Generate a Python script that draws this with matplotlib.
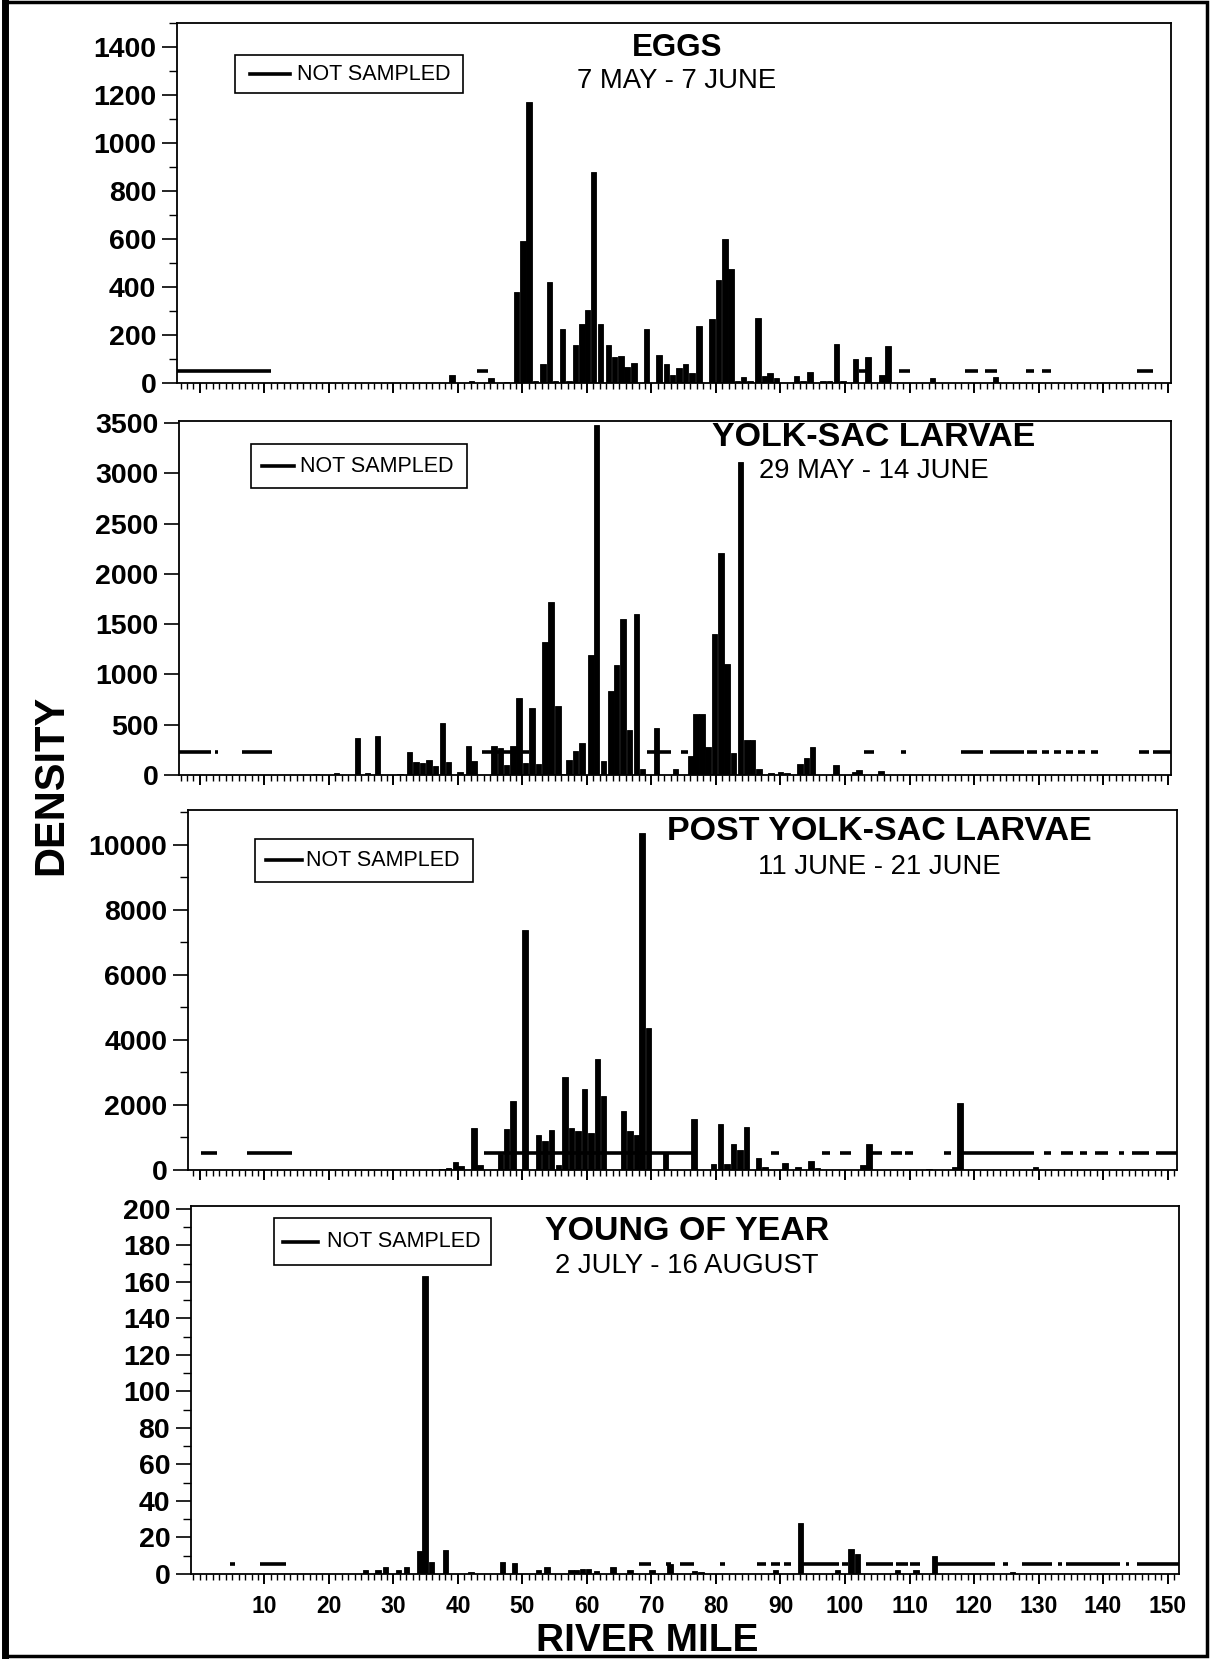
import matplotlib
matplotlib.use("Agg")
import matplotlib.pyplot as plt
from matplotlib.lines import Line2D
from matplotlib.patches import Rectangle
from matplotlib.ticker import MultipleLocator

# ---- data (river mile, density) ----
eggs_mile = [39.1, 42.1, 45.1, 47.5, 49.1, 50.1, 51.0, 52.0, 53.2, 54.2, 55.1, 56.2,
             57.2, 58.2, 59.2, 60.1, 61.0, 62.1, 63.3, 64.3, 65.3, 66.2, 67.3, 69.2,
             71.2, 72.3, 73.3, 74.3, 75.3, 76.3, 77.4, 79.4, 80.4, 81.4, 82.3, 83.3,
             84.3, 85.3, 86.5, 87.5, 88.4, 89.4, 92.5, 93.5, 94.6, 96.6, 97.6, 98.7,
             99.7, 101.6, 103.6, 105.7, 106.7, 113.6, 123.3]
eggs_val = [35, 8, 22, 5, 380, 590, 1170, 10, 80, 420, 10, 226,
            10, 157, 247, 303, 880, 247, 160, 108, 112, 67, 85, 226,
            115, 80, 32, 62, 80, 40, 237, 265, 430, 601, 476, 8,
            25, 8, 270, 30, 40, 20, 30, 10, 45, 10, 10, 161,
            10, 98, 108, 35, 155, 20, 25]
eggs_ns = [(-4, 11), (42.9, 44.7), (102.1, 103.2), (108.4, 110), (118.6, 120.6),
           (121.7, 123.5), (128, 129.3), (130.6, 131.9), (145.3, 147.7)]

ysl_mile = [18.0, 21.2, 24.4, 26.0, 27.5, 31.0, 32.5, 33.5, 34.5, 35.5, 36.5, 37.6,
            38.5, 40.3, 41.6, 42.5, 45.6, 46.6, 47.5, 48.5, 49.5, 50.5, 51.5, 52.5,
            53.5, 54.4, 55.5, 56.2, 57.2, 58.2, 59.2, 60.6, 61.5, 62.6, 63.7, 64.6,
            65.6, 66.6, 67.7, 68.6, 70.8, 73.7, 76.1, 76.9, 77.8, 78.8, 79.8, 80.8,
            81.7, 82.7, 83.8, 84.8, 85.7, 86.7, 88.5, 90.0, 91.0, 93.0, 94.0, 95.0,
            98.6, 101.5, 102.2, 105.6]
ysl_val = [10, 15, 368, 20, 385, 10, 224, 134, 124, 150, 90, 519,
           134, 30, 284, 144, 291, 268, 100, 284, 770, 120, 670, 110,
           1322, 1724, 686, 10, 150, 240, 318, 1195, 3480, 144, 837, 1094,
           1556, 452, 1596, 57, 469, 57, 184, 602, 602, 278, 1405, 2209,
           1104, 218, 3112, 345, 345, 57, 20, 30, 20, 110, 167, 278,
           100, 30, 45, 40]
ysl_ns = [(-4, 1.7), (2.3, 2.8), (6.5, 11.2), (43.7, 51), (69.3, 73.1), (74.6, 75.7),
          (102.9, 104.5), (108.7, 109.4), (118, 121.4), (122.4, 127.7), (128.2, 129.8),
          (130.5, 131.6), (132.4, 133.5), (134.3, 135.4), (136.1, 137.2), (138.2, 139.2),
          (145.6, 147.1), (147.7, 153)]

pysl_mile = [37.5, 38.5, 39.6, 40.5, 42.5, 43.4, 46.6, 47.5, 48.5, 50.4, 52.5, 53.5,
             54.5, 55.6, 56.6, 57.6, 58.6, 59.6, 60.6, 61.6, 62.6, 65.7, 66.7, 67.7,
             68.5, 69.5, 72.2, 76.6, 79.6, 80.7, 81.7, 82.7, 83.7, 84.7, 86.6, 87.6,
             90.7, 92.7, 94.7, 95.7, 97.5, 102.8, 103.7, 110.6, 113.0, 117.0, 117.8, 129.5]
pysl_val = [30, 60, 235, 133, 1279, 164, 500, 1259, 2128, 7368, 1075, 880,
            1228, 164, 2845, 1290, 1187, 2487, 1126, 3408, 2282, 1801, 1208, 1085,
            10367, 4360, 520, 1566, 174, 1402, 174, 798, 614, 1330, 358, 100,
            205, 100, 276, 60, 10, 150, 798, 10, 20, 100, 2047, 100]
pysl_ns = [(0.2, 2.7), (7.3, 14.2), (44, 76.5), (88.5, 89.8), (96.4, 97.7), (99.2, 101),
           (103.7, 105.7), (107.2, 108.8), (109.3, 110.6), (115.4, 116.5), (117.8, 129.3),
           (130.9, 132), (133.5, 135.3), (136.5, 137.5), (138.8, 140.8), (142.4, 143.2),
           (144.5, 147.2), (148.2, 153)]

yoy_mile = [25.7, 27.6, 28.8, 30.8, 32.0, 34.1, 34.9, 35.9, 38.1, 42.0, 46.9, 48.8,
            52.5, 53.8, 57.5, 58.4, 59.3, 60.2, 61.5, 64.0, 66.7, 70.1, 72.9, 76.7,
            77.7, 89.2, 93.1, 98.8, 100.9, 101.9, 108.1, 111.0, 113.9, 126.0]
yoy_val = [2, 2.3, 3.6, 2, 3.6, 12.6, 163, 6.8, 13, 1, 6.8, 6,
           2, 3.6, 2, 2, 2.7, 2.7, 1.5, 3.6, 2, 2, 5.4, 1.5,
           1, 2, 28, 2, 13.6, 10.8, 2, 2, 10, 1]
yoy_ns = [(4.7, 5.4), (9.3, 13.3), (68, 69.9), (72.2, 73), (74.5, 76.6), (80.6, 81.4),
          (86.4, 87.8), (88.5, 89.9), (90.5, 91.6), (93.2, 99), (99.5, 100.5),
          (103.2, 107.4), (107.9, 109.8), (110, 111.6), (114.3, 123.2), (124.5, 125.2),
          (127.4, 132.1), (133, 133.6), (134.3, 142.6), (143.5, 144), (145.3, 153)]

titles = ["EGGS", "YOLK-SAC LARVAE", "POST YOLK-SAC LARVAE", "YOUNG OF YEAR"]
dates = ["7 MAY - 7 JUNE", "29 MAY - 14 JUNE", "11 JUNE - 21 JUNE", "2 JULY - 16 AUGUST"]
ns_level = [50, 230, 520, 5.5]
ymax = [1500, 3520, 11070, 201.5]
ymajor = [200, 500, 2000, 20]
yminor = [100, 500, 1000, 10]

# ---- layout, in pixels of the 1212x1659 output ----
W, H = 1212, 1659
X0, PXM = 199.9, 6.451          # pixel of river mile 0, pixels per mile
boxes = [(177, 23, 1171, 383), (179, 421, 1171, 775),
         (188, 810, 1177, 1170), (191, 1206, 1179, 1574)]
title_xy = [(677, 48, 81), (874, 438, 471), (879, 832, 867), (687, 1232, 1266)]
title_size = [22.5, 24.5, 24.5, 24.5]
# legend box (l, t, r, b), handle line (x1, x2), text x
legend_box = [(235, 55, 463, 93), (251, 444, 467, 488),
              (255, 839, 473, 882), (274, 1218, 491, 1265)]
legend_line = [(250, 290), (262, 294), (266, 302), (283, 318)]
legend_text_x = [297, 300, 306, 327]

FONT = ['Liberation Sans', 'DejaVu Sans']


def fx(x):
    return x / W


def fy(y):
    return 1 - y / H


fig = plt.figure(figsize=(W / 100, H / 100), dpi=100)

data = [(eggs_mile, eggs_val, eggs_ns), (ysl_mile, ysl_val, ysl_ns),
        (pysl_mile, pysl_val, pysl_ns), (yoy_mile, yoy_val, yoy_ns)]

for i, (miles, vals, ns) in enumerate(data):
    l, t, r, b = boxes[i]
    ax = fig.add_axes([fx(l), fy(b), (r - l) / W, (b - t) / H])
    ax.hlines([ns_level[i]] * len(ns), [s[0] for s in ns], [s[1] for s in ns],
              colors='black', linewidth=2.6, zorder=2)
    ax.bar(miles, vals, width=0.85, color='black', edgecolor='black',
           linewidth=0.6, zorder=3)
    ax.set_xlim((l - X0) / PXM, (r - X0) / PXM)
    ax.set_ylim(0, ymax[i])

    ax.xaxis.set_major_locator(MultipleLocator(10))
    ax.xaxis.set_minor_locator(MultipleLocator(1))
    ax.yaxis.set_major_locator(MultipleLocator(ymajor[i]))
    ax.yaxis.set_minor_locator(MultipleLocator(yminor[i]))
    ax.tick_params(axis='y', which='major', direction='out', length=11, width=1.2, pad=4)
    ax.tick_params(axis='y', which='minor', direction='out', length=6, width=1.0)
    ax.tick_params(axis='x', which='major', direction='out', length=7, width=1.4, pad=8)
    ax.tick_params(axis='x', which='minor', direction='out', length=4, width=1.0)
    for s in ax.spines.values():
        s.set_linewidth(1.3)

    for lab in ax.get_yticklabels():
        lab.set_family(FONT)
        lab.set_fontweight('bold')
        lab.set_fontsize(20.5)
    if i < 3:
        ax.set_xticklabels([])
    else:
        ax.set_xticks(range(10, 151, 10))
        ax.set_xticklabels([str(v) for v in range(10, 151, 10)],
                           fontsize=16.5, fontweight='bold', family=FONT)

    tx, ty1, ty2 = title_xy[i]
    fig.text(fx(tx), fy(ty1), titles[i], ha='center', va='center',
             fontsize=title_size[i], fontweight='bold', family=FONT)
    fig.text(fx(tx), fy(ty2), dates[i], ha='center', va='center',
             fontsize=19.8, family=FONT)

    # "NOT SAMPLED" key box
    bl, bt, br, bb = legend_box[i]
    fig.patches.append(Rectangle((fx(bl), fy(bb)), fx(br) - fx(bl), fy(bt) - fy(bb),
                                 transform=fig.transFigure, facecolor='white',
                                 edgecolor='black', linewidth=1.2, zorder=5))
    ym = (bt + bb) / 2
    x1, x2 = legend_line[i]
    fig.add_artist(Line2D([fx(x1), fx(x2)], [fy(ym), fy(ym)], transform=fig.transFigure,
                          color='black', linewidth=2.6, zorder=6))
    fig.text(fx(legend_text_x[i]), fy(ym), 'NOT SAMPLED', ha='left', va='center',
             fontsize=15.5, family=FONT, zorder=6)

fig.text(fx(51), fy(785), 'DENSITY', rotation=90, ha='center', va='center',
         fontsize=30, fontweight='bold', family=FONT)
fig.text(fx(647), fy(1641), 'RIVER MILE', ha='center', va='center',
         fontsize=28, fontweight='bold', family=FONT)

# outer frame of the scanned page
fig.patches.append(Rectangle((fx(5), fy(1656)), fx(1207) - fx(5), fy(2) - fy(1656),
                             transform=fig.transFigure, fill=False,
                             edgecolor='black', linewidth=2.5))
fig.add_artist(Line2D([fx(5), fx(5)], [fy(1656), fy(2)], transform=fig.transFigure,
                      color='black', linewidth=5))

fig.savefig('out.png', dpi=100)
